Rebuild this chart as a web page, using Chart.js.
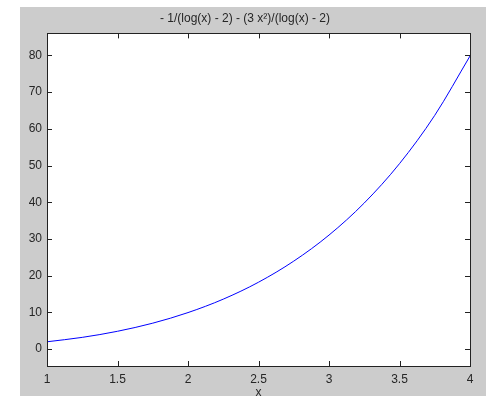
<!DOCTYPE html>
<html>
<head>
<meta charset="utf-8">
<script src="https://cdn.jsdelivr.net/npm/chart.js@4.4.0/dist/chart.umd.min.js"></script>
<style>
  html, body { margin: 0; padding: 0; background: #fff; }
  #fig { position: absolute; left: 20px; top: 7px; width: 466px; height: 389px; background: #cccccc; }
  #plot { display: block; }
</style>
</head>
<body>
<div id="fig"><canvas id="plot" width="466" height="389"></canvas></div>
<script>
// samples of f(x) along the plotted interval
const xValues = [1, 1.25, 1.5, 1.75, 2, 2.25, 2.5, 2.75, 3, 3.25, 3.5, 3.75, 4];
const yValues = [2.0, 3.2, 4.86, 7.07, 9.95, 13.61, 18.22, 23.97, 31.06, 39.80, 50.52, 63.68, 79.84];

const xTicks = [1, 1.5, 2, 2.5, 3, 3.5, 4];
const yTicks = [0, 10, 20, 30, 40, 50, 60, 70, 80];

const titleText = "- 1/(log(x) - 2) - (3 x\u00b2)/(log(x) - 2)";

const points = xValues.map((x, i) => ({ x: x, y: yValues[i] }));

const tickFont = { family: "'Liberation Sans', Arial, sans-serif", size: 12, weight: "normal" };
const inkColor = "#262626";

// box around the axes plus inward tick marks on all four sides
const boxTicks = {
  id: "boxTicks",
  afterDraw(chart) {
    const { ctx, chartArea: a, scales } = chart;
    ctx.save();
    ctx.strokeStyle = "#222";
    ctx.lineWidth = 1;
    ctx.strokeRect(Math.round(a.left) + 0.5, Math.round(a.top) + 0.5,
      Math.round(a.right - a.left), Math.round(a.bottom - a.top));
    ctx.beginPath();
    const len = 5;
    xTicks.forEach(t => {
      const px = Math.round(scales.x.getPixelForValue(t)) + 0.5;
      ctx.moveTo(px, a.bottom); ctx.lineTo(px, a.bottom - len);
      ctx.moveTo(px, a.top); ctx.lineTo(px, a.top + len);
    });
    yTicks.forEach(t => {
      const py = Math.round(scales.y.getPixelForValue(t)) + 0.5;
      ctx.moveTo(a.left, py); ctx.lineTo(a.left + len, py);
      ctx.moveTo(a.right, py); ctx.lineTo(a.right - len, py);
    });
    ctx.stroke();
    ctx.restore();
  }
};

// white axes background
const axesBg = {
  id: "axesBg",
  beforeDraw(chart) {
    const { ctx, chartArea: a } = chart;
    ctx.save();
    ctx.fillStyle = "#ffffff";
    ctx.fillRect(a.left, a.top, a.right - a.left, a.bottom - a.top);
    ctx.restore();
  }
};

new Chart(document.getElementById("plot"), {
  type: "line",
  data: {
    datasets: [{
      data: points,
      borderColor: "#0000ff",
      borderWidth: 1,
      pointRadius: 0,
      cubicInterpolationMode: "monotone",
      fill: false
    }]
  },
  options: {
    responsive: false,
    animation: false,
    layout: { padding: { left: 0, right: 16, top: 0, bottom: 0 } },
    plugins: {
      legend: { display: false },
      tooltip: { enabled: false },
      title: {
        display: true,
        text: titleText,
        color: inkColor,
        font: tickFont,
        padding: { top: 4, bottom: 8 }
      }
    },
    scales: {
      x: {
        type: "linear",
        min: 1,
        max: 4,
        grid: { display: false, drawTicks: false },
        border: { display: false },
        afterBuildTicks(scale) { scale.ticks = xTicks.map(v => ({ value: v })); },
        afterFit(scale) { scale.height = 30; },
        ticks: {
          color: inkColor, font: tickFont, padding: 6, maxRotation: 0,
          callback: v => String(v)
        },
        title: { display: true, text: "x", color: inkColor, font: tickFont, padding: { top: 0, bottom: -4 } }
      },
      y: {
        type: "linear",
        min: -4.6,
        max: 86,
        grid: { display: false, drawTicks: false },
        border: { display: false },
        afterBuildTicks(scale) { scale.ticks = yTicks.map(v => ({ value: v })); },
        afterFit(scale) { scale.width = 27; },
        ticks: { color: inkColor, font: tickFont, padding: 5, callback: v => String(v) }
      }
    }
  },
  plugins: [axesBg, boxTicks]
});
</script>
</body>
</html>
